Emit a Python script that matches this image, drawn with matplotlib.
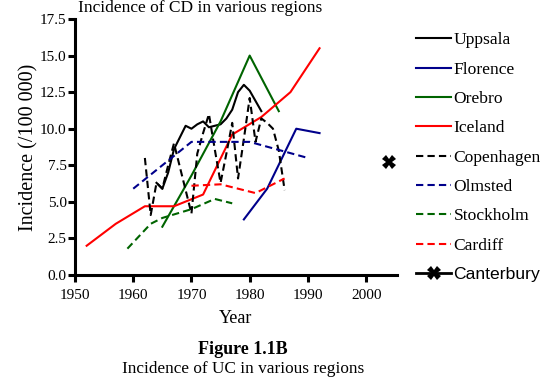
import matplotlib
matplotlib.use("Agg")
import matplotlib.pyplot as plt

# ---- data ----
uppsala_years = [1964, 1965, 1966, 1967, 1968, 1969, 1970, 1971, 1972, 1973, 1974, 1975, 1976, 1977, 1978, 1979, 1980, 1981, 1982]
uppsala_vals = [6.3, 5.9, 7.0, 8.6, 9.4, 10.2, 10.0, 10.3, 10.5, 10.1, 10.2, 10.3, 10.7, 11.3, 12.5, 13.0, 12.6, 11.9, 11.2]

florence_years = [1979, 1983, 1988, 1992]
florence_vals = [3.8, 5.9, 10.0, 9.7]

orebro_years = [1965, 1970, 1975, 1980, 1985]
orebro_vals = [3.3, 6.8, 10.5, 15.0, 11.2]

iceland_years = [1952, 1957, 1962, 1967, 1972, 1977, 1982, 1987, 1992]
iceland_vals = [2.0, 3.5, 4.7, 4.7, 5.5, 9.6, 10.8, 12.5, 15.5]

copenhagen_years = [1962, 1963, 1964, 1965, 1966, 1967, 1968, 1969, 1970, 1971, 1972, 1973, 1974,
                    1975, 1976, 1977, 1978, 1979, 1980, 1981, 1982, 1983, 1984, 1985, 1986]
copenhagen_vals = [8.0, 4.1, 6.3, 5.9, 7.5, 9.0, 7.4, 5.8, 4.2, 8.3, 9.7, 11.0, 8.6,
                   6.3, 8.3, 10.4, 6.6, 9.3, 12.1, 9.1, 10.7, 10.4, 10.0, 8.5, 5.8]

olmsted_years = [1960, 1970, 1980, 1990]
olmsted_vals = [5.9, 9.1, 9.1, 8.0]

stockholm_years = [1959, 1963, 1965, 1970, 1974, 1977]
stockholm_vals = [1.8, 3.5, 3.9, 4.5, 5.2, 4.9]

cardiff_years = [1970, 1975, 1981, 1986]
cardiff_vals = [6.1, 6.2, 5.6, 6.6]

canterbury_years = [2004]
canterbury_vals = [7.7]

x_ticks = [1950, 1960, 1970, 1980, 1990, 2000]
y_ticks = [0.0, 2.5, 5.0, 7.5, 10.0, 12.5, 15.0, 17.5]

# ---- style ----
serif = "Liberation Serif"
sans = "Liberation Sans"
plt.rcParams["font.family"] = [serif, "DejaVu Serif"]

BLACK = "#000000"
NAVY = "#00008B"
GREEN = "#006400"
RED = "#FF0000"
lw = 1.5
dash = (0, (3.5, 2))

fig = plt.figure(figsize=(5.42, 3.81), dpi=100)
ax = fig.add_axes([75 / 542, 1 - 275 / 381, (397 - 75) / 542, (275 - 19) / 381])

h = []
h += ax.plot(uppsala_years, uppsala_vals, color=BLACK, lw=lw, label="Uppsala")
h += ax.plot(florence_years, florence_vals, color=NAVY, lw=lw, label="Florence")
h += ax.plot(orebro_years, orebro_vals, color=GREEN, lw=lw, label="Orebro")
h += ax.plot(iceland_years, iceland_vals, color=RED, lw=lw, label="Iceland")
h += ax.plot(copenhagen_years, copenhagen_vals, color=BLACK, lw=lw, ls=dash, label="Copenhagen")
h += ax.plot(olmsted_years, olmsted_vals, color=NAVY, lw=lw, ls=dash, label="Olmsted")
h += ax.plot(stockholm_years, stockholm_vals, color=GREEN, lw=lw, ls=dash, label="Stockholm")
h += ax.plot(cardiff_years, cardiff_vals, color=RED, lw=lw, ls=dash, label="Cardiff")
h += ax.plot(canterbury_years, canterbury_vals, color=BLACK, lw=2, marker="X", markersize=10,
             markeredgewidth=0, ls="-", label="Canterbury", clip_on=False)

ax.set_xlim(1950, 2005.3)
ax.set_ylim(0, 17.5)
ax.set_xticks(x_ticks)
ax.set_yticks(y_ticks)
ax.set_yticklabels([f"{v:.1f}" for v in y_ticks])
for s in ["top", "right"]:
    ax.spines[s].set_visible(False)
for s in ["left", "bottom"]:
    ax.spines[s].set_linewidth(2.2)
ax.tick_params(direction="out", length=5, width=2.2, labelsize=11)
ax.tick_params(axis="y", pad=1)
ax.tick_params(axis="x", pad=5)

ax.set_xlabel("Year", fontsize=13, labelpad=6)
ax.set_ylabel("Incidence (/100 000)", fontsize=14.5, labelpad=1)

leg = fig.legend(handles=h, loc="upper left", bbox_to_anchor=(416 / 542, 1 - 32 / 381),
                 frameon=False, fontsize=12.6, handlelength=2.0, handletextpad=0.15,
                 labelspacing=0.75, borderaxespad=0, borderpad=0)
for t in leg.get_texts():
    if t.get_text() == "Canterbury":
        t.set_fontfamily(sans)

fig.text(200 / 542, 1.0, "Incidence of CD in various regions", ha="center",
         va="top", fontsize=12.5)
fig.text(243 / 542, 1 - 349 / 381, "Figure 1.1B", ha="center", va="center",
         fontsize=13, fontweight="bold")
fig.text(243 / 542, 1 - 369 / 381, "Incidence of UC in various regions", ha="center",
         va="center", fontsize=12.4)

fig.savefig("out.png", dpi=100)
